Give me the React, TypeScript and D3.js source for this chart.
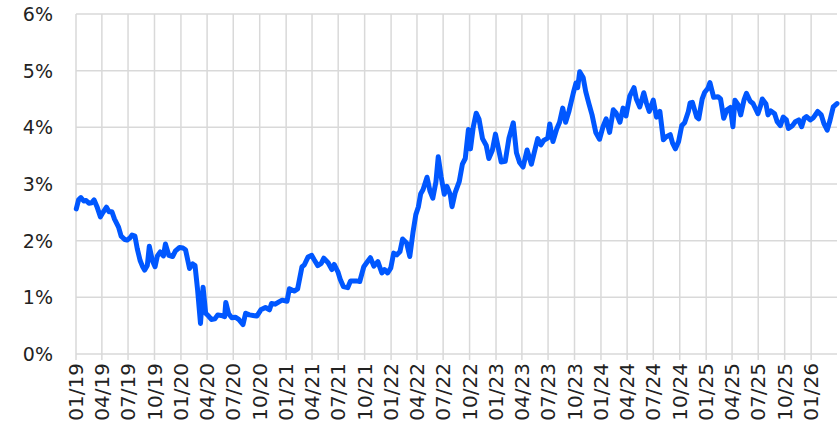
import React from 'react';
import * as d3 from 'd3';

// 10-year yield (roughly every ten days)
const dates = [
  '2019-01-02', '2019-01-10', '2019-01-18', '2019-01-28', '2019-02-05', '2019-02-15', '2019-02-25',
  '2019-03-05', '2019-03-15', '2019-03-27', '2019-04-05', '2019-04-17', '2019-04-26', '2019-05-06',
  '2019-05-15', '2019-05-29', '2019-06-07', '2019-06-20', '2019-06-28', '2019-07-08', '2019-07-15',
  '2019-07-25', '2019-08-02', '2019-08-12', '2019-08-20', '2019-08-28', '2019-09-06', '2019-09-13',
  '2019-09-24', '2019-10-03', '2019-10-11', '2019-10-21', '2019-11-01', '2019-11-08', '2019-11-20',
  '2019-12-03', '2019-12-13', '2019-12-27', '2020-01-08', '2020-01-17', '2020-01-31', '2020-02-11',
  '2020-02-19', '2020-02-28', '2020-03-09', '2020-03-18', '2020-03-27', '2020-04-06', '2020-04-16',
  '2020-04-28', '2020-05-08', '2020-05-20', '2020-06-01', '2020-06-05', '2020-06-15', '2020-06-26',
  '2020-07-08', '2020-07-20', '2020-08-04', '2020-08-13', '2020-08-26', '2020-09-08', '2020-09-21',
  '2020-10-05', '2020-10-21', '2020-11-04', '2020-11-11', '2020-11-24', '2020-12-07', '2020-12-18',
  '2021-01-04', '2021-01-12', '2021-01-29', '2021-02-10', '2021-02-25', '2021-03-05', '2021-03-18',
  '2021-03-31', '2021-04-09', '2021-04-21', '2021-05-03', '2021-05-12', '2021-05-27', '2021-06-09',
  '2021-06-17', '2021-06-30', '2021-07-08', '2021-07-19', '2021-08-03', '2021-08-13', '2021-08-24',
  '2021-09-02', '2021-09-14', '2021-09-28', '2021-10-08', '2021-10-21', '2021-11-02', '2021-11-16',
  '2021-11-30', '2021-12-09', '2021-12-20', '2021-12-31', '2022-01-10', '2022-01-21', '2022-02-01',
  '2022-02-10', '2022-02-24', '2022-03-07', '2022-03-18', '2022-03-28', '2022-04-06', '2022-04-14',
  '2022-04-22', '2022-05-06', '2022-05-16', '2022-05-26', '2022-06-06', '2022-06-14', '2022-06-24',
  '2022-07-05', '2022-07-14', '2022-07-26', '2022-08-01', '2022-08-12', '2022-08-26', '2022-09-06',
  '2022-09-16', '2022-09-27', '2022-10-04', '2022-10-14', '2022-10-24', '2022-11-03', '2022-11-15',
  '2022-11-28', '2022-12-07', '2022-12-19', '2022-12-30', '2023-01-10', '2023-01-19', '2023-02-02',
  '2023-02-15', '2023-03-02', '2023-03-13', '2023-03-24', '2023-04-05', '2023-04-19', '2023-05-04',
  '2023-05-18', '2023-05-26', '2023-06-06', '2023-06-16', '2023-06-30', '2023-07-07', '2023-07-18',
  '2023-07-31', '2023-08-10', '2023-08-21', '2023-08-31', '2023-09-12', '2023-09-27', '2023-10-06',
  '2023-10-12', '2023-10-19', '2023-10-31', '2023-11-09', '2023-11-20', '2023-12-01', '2023-12-14',
  '2023-12-27', '2024-01-08', '2024-01-19', '2024-01-31', '2024-02-13', '2024-02-23', '2024-03-07',
  '2024-03-18', '2024-03-28', '2024-04-10', '2024-04-25', '2024-05-03', '2024-05-15', '2024-05-29',
  '2024-06-07', '2024-06-17', '2024-07-01', '2024-07-12', '2024-07-24', '2024-08-05', '2024-08-14',
  '2024-08-29', '2024-09-06', '2024-09-16', '2024-09-27', '2024-10-08', '2024-10-18', '2024-10-31',
  '2024-11-06', '2024-11-14', '2024-11-29', '2024-12-06', '2024-12-18', '2024-12-27', '2025-01-07',
  '2025-01-14', '2025-01-27', '2025-02-11', '2025-02-20', '2025-03-03', '2025-03-14', '2025-03-26',
  '2025-04-04', '2025-04-11', '2025-04-22', '2025-05-01', '2025-05-13', '2025-05-21', '2025-06-03',
  '2025-06-13', '2025-06-30', '2025-07-11', '2025-07-15', '2025-07-28', '2025-08-04', '2025-08-14',
  '2025-08-27', '2025-09-05', '2025-09-16', '2025-09-26', '2025-10-07', '2025-10-14', '2025-10-28',
  '2025-11-07', '2025-11-19', '2025-11-29', '2025-12-08', '2025-12-16', '2025-12-29', '2026-01-09',
  '2026-01-24', '2026-02-05', '2026-02-15', '2026-02-26', '2026-03-08', '2026-03-19', '2026-04-01',
];

const yields = [
  2.56, 2.72, 2.76, 2.70, 2.71, 2.66, 2.67,
  2.72, 2.60, 2.42, 2.50, 2.59, 2.51, 2.51,
  2.38, 2.24, 2.08, 2.02, 2.01, 2.05, 2.10,
  2.08, 1.86, 1.65, 1.55, 1.48, 1.56, 1.90,
  1.64, 1.54, 1.73, 1.80, 1.73, 1.94, 1.74,
  1.72, 1.82, 1.88, 1.87, 1.84, 1.51, 1.59,
  1.56, 1.13, 0.54, 1.18, 0.72, 0.67, 0.61,
  0.62, 0.69, 0.68, 0.66, 0.91, 0.71, 0.64,
  0.65, 0.61, 0.52, 0.72, 0.69, 0.68, 0.67,
  0.78, 0.82, 0.78, 0.89, 0.88, 0.92, 0.95,
  0.93, 1.15, 1.11, 1.15, 1.54, 1.57, 1.71,
  1.74, 1.66, 1.56, 1.60, 1.69, 1.61, 1.49,
  1.58, 1.45, 1.32, 1.19, 1.17, 1.29, 1.29,
  1.29, 1.28, 1.54, 1.61, 1.70, 1.55, 1.63,
  1.43, 1.49, 1.43, 1.52, 1.78, 1.75, 1.81,
  2.03, 1.96, 1.72, 2.14, 2.46, 2.60, 2.83,
  2.90, 3.12, 2.88, 2.75, 3.04, 3.48, 3.13,
  2.82, 2.96, 2.81, 2.60, 2.85, 3.04, 3.35,
  3.45, 3.96, 3.62, 4.01, 4.25, 4.14, 3.80,
  3.68, 3.45, 3.59, 3.88, 3.61, 3.39, 3.40,
  3.81, 4.08, 3.55, 3.38, 3.30, 3.60, 3.35,
  3.64, 3.80, 3.69, 3.77, 3.81, 4.06, 3.75,
  3.97, 4.09, 4.34, 4.09, 4.29, 4.61, 4.78,
  4.70, 4.98, 4.88, 4.63, 4.42, 4.22, 3.91,
  3.79, 4.01, 4.15, 3.91, 4.31, 4.25, 4.09,
  4.34, 4.20, 4.55, 4.70, 4.50, 4.36, 4.61,
  4.43, 4.28, 4.48, 4.18, 4.28, 3.78, 3.83,
  3.87, 3.72, 3.62, 3.75, 4.03, 4.08, 4.28,
  4.43, 4.44, 4.18, 4.15, 4.50, 4.62, 4.69,
  4.79, 4.53, 4.54, 4.50, 4.16, 4.31, 4.35,
  4.01, 4.48, 4.40, 4.22, 4.49, 4.60, 4.46,
  4.42, 4.24, 4.41, 4.50, 4.41, 4.22, 4.29,
  4.24, 4.10, 4.03, 4.18, 4.13, 3.98, 4.03,
  4.10, 4.13, 4.01, 4.16, 4.19, 4.13, 4.17,
  4.28, 4.22, 4.06, 3.95, 4.13, 4.36, 4.42,
];

const yTicks = [0, 1, 2, 3, 4, 5, 6];

const xTickLabels = [
  '01/19', '04/19', '07/19', '10/19', '01/20', '04/20', '07/20', '10/20',
  '01/21', '04/21', '07/21', '10/21', '01/22', '04/22', '07/22', '10/22',
  '01/23', '04/23', '07/23', '10/23', '01/24', '04/24', '07/24', '10/24',
  '01/25', '04/25', '07/25', '10/25', '01/26',
];

const parseDate = d3.timeParse('%Y-%m-%d');
const parseTick = d3.timeParse('%m/%y');

const width = 840;
const height = 440;
const font = '"DejaVu Sans", Verdana, sans-serif';

export default function App() {
  const data = dates.map((d, i) => ({ date: parseDate(d) as Date, value: yields[i] }));

  const x = d3.scaleTime()
    .domain([new Date(2019, 0, 1), data[data.length - 1].date])
    .range([76, 837]);

  const y = d3.scaleLinear()
    .domain([0, 6])
    .range([354, 14]);

  const line = d3.line<{ date: Date; value: number }>()
    .x(d => x(d.date))
    .y(d => y(d.value));

  const ticks = xTickLabels.map(t => ({ label: t, date: parseTick(t) as Date }));

  return (
    <div style={{ position: 'absolute', left: 0, top: 0 }}>
      <svg width={width} height={height} style={{ display: 'block', background: '#fff' }}>
        {/* horizontal grid */}
        {yTicks.map(t => (
          <line key={'h' + t} x1={x.range()[0]} x2={x.range()[1]} y1={y(t)} y2={y(t)}
            stroke="#d9d9d9" strokeWidth={1.5} />
        ))}
        {/* vertical grid + tick stubs */}
        {ticks.map(t => (
          <line key={'v' + t.label} x1={x(t.date)} x2={x(t.date)} y1={y(6)} y2={y(0) + 6}
            stroke="#d9d9d9" strokeWidth={1.5} />
        ))}
        {/* y labels */}
        {yTicks.map(t => (
          <text key={'yl' + t} x={53} y={y(t)} dy="0.36em" textAnchor="end"
            fontFamily={font} fontSize={19} fill="#222">{t + '%'}</text>
        ))}
        {/* x labels */}
        {ticks.map(t => (
          <text key={'xl' + t.label}
            transform={`translate(${x(t.date)},${y(0) + 9}) rotate(-90)`}
            dy="0.36em" textAnchor="end"
            fontFamily={font} fontSize={20} fill="#222">{t.label}</text>
        ))}
        <path d={line(data) ?? ''} fill="none" stroke="#0057ff" strokeWidth={5}
          strokeLinejoin="round" strokeLinecap="round" />
      </svg>
    </div>
  );
}
